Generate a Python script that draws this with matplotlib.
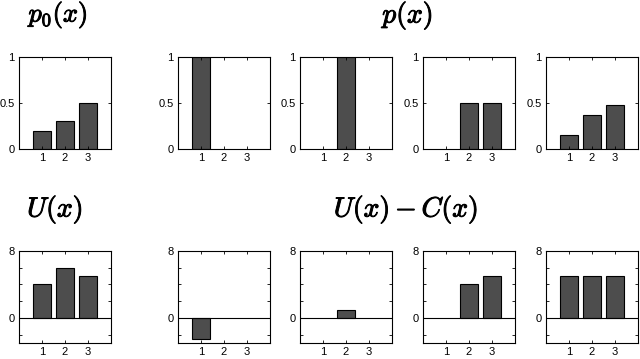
import matplotlib
matplotlib.use("Agg")
import matplotlib.pyplot as plt
import matplotlib.patheffects as pe

plt.rcParams['mathtext.fontset'] = 'cm'
plt.rcParams['font.family'] = ['Liberation Sans', 'DejaVu Sans']

# data
x = [1, 2, 3]
p0 = [0.2, 0.3, 0.5]
p_panels = [
    [1.0, 0.0, 0.0],
    [0.0, 1.0, 0.0],
    [0.0, 0.5, 0.5],
    [0.15, 0.365, 0.48],
]
U = [4, 6, 5]
UC_panels = [
    [-2.5, 0, 0],
    [0, 1, 0],
    [0, 4, 5],
    [5, 5, 5],
]

W, H = 640, 359
fig = plt.figure(figsize=(W / 100, H / 100), dpi=100)

col_left = [19, 178, 300, 423, 546]
aw, ah = 92, 92
top_row_bottom = 149
bot_row_bottom = 343

bar_color = '#4d4d4d'


def make_ax(left_px, bottom_px):
    ax = fig.add_axes([left_px / W, (H - bottom_px) / H, aw / W, ah / H])
    ax.tick_params(direction='in', top=True, right=True, labelsize=8,
                   length=2.5, width=0.6, pad=3)
    for s in ax.spines.values():
        s.set_linewidth(0.8)
    ax.set_xlim(0, 4)
    ax.set_xticks(x)
    return ax


def draw_bars(ax, vals):
    xs = [xi for xi, v in zip(x, vals) if v != 0]
    vs = [v for v in vals if v != 0]
    ax.bar(xs, vs, width=0.8, color=bar_color, edgecolor='black', linewidth=0.8)


# top row
tops = [p0] + p_panels
for left, vals in zip(col_left, tops):
    ax = make_ax(left, top_row_bottom)
    draw_bars(ax, vals)
    ax.set_ylim(0, 1)
    ax.set_yticks([0, 0.5, 1])
    ax.set_yticklabels(['0', '0.5', '1'])

# bottom row
bots = [U] + UC_panels
for left, vals in zip(col_left, bots):
    ax = make_ax(left, bot_row_bottom)
    ax.axhline(0, color='black', linewidth=0.8)
    draw_bars(ax, vals)
    ax.set_ylim(-3, 8)
    ax.set_yticks([-2, 0, 2, 4, 6, 8])
    ax.set_yticklabels(['', '0', '', '', '', '8'])

# titles
thick = [pe.withStroke(linewidth=0.7, foreground='black')]
titles = [
    (58.5, 15, r'$p_0(x)$', 19),
    (408, 15, r'$p(x)$', 20),
    (55, 209, r'$U(x)$', 20),
    (406, 209, r'$U(x) - C(x)$', 20),
]
for tx, ty, s, fs in titles:
    fig.text(tx / W, 1 - ty / H, s, fontsize=fs, ha='center', va='center',
             path_effects=thick)

fig.savefig('out.png', dpi=100)
